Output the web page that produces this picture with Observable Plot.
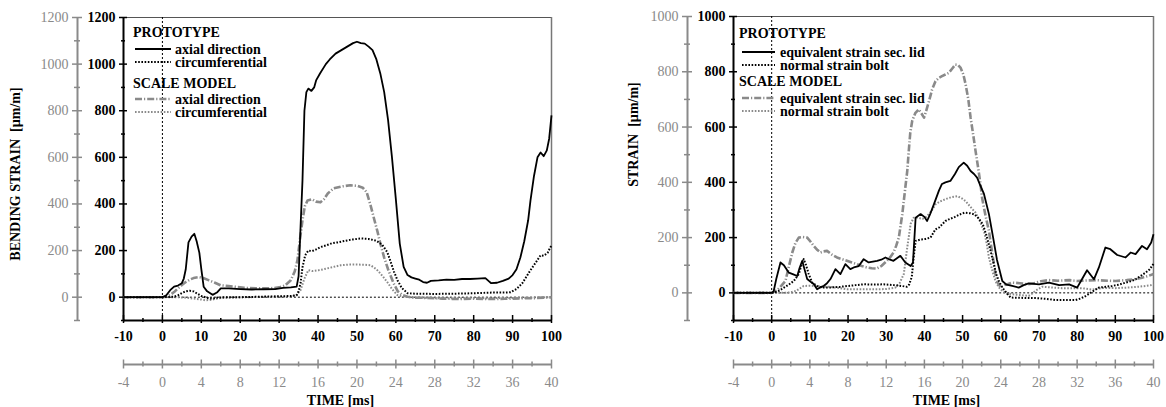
<!DOCTYPE html>
<html><head><meta charset="utf-8">
<script src="https://cdn.jsdelivr.net/npm/d3@7"></script>
<script src="https://cdn.jsdelivr.net/npm/@observablehq/plot@0.6"></script>
<style>
body{margin:0;background:#fff;}
#wrap{display:flex;width:1166px;height:407px;overflow:hidden;}
</style></head><body><div id="wrap"></div>
<script>
// ---------- tick values ----------
const TIME_RATIO = 2.5; // prototype ms per scale-model ms
const protoTimeMajor = [-10,0,10,20,30,40,50,60,70,80,90,100];
const protoTimeMinor = [-5,5,15,25,35,45,55,65,75,85,95];
const scaleTimeMajor = [-4,0,4,8,12,16,20,24,28,32,36,40];
const scaleTimeMinor = [-2,2,6,10,14,18,22,26,30,34,38];
const bendMajor = [0,200,400,600,800,1000,1200];
const bendMinor = [-100,100,300,500,700,900,1100];
const strainMajor = [0,200,400,600,800,1000];
const strainMinor = [-100,100,300,500,700,900];

// ---------- left panel: bending strain [µm/m] ----------
// prototype, time in prototype ms
const protoAxial = [[-10,0],[0,0],[1,8],[2,30],[3,45],[4,50],[5,60],[5.5,80],[6,120],[6.7,235],[7.5,260],[8.2,272],[8.8,240],[9.5,190],[10,120],[10.6,45],[11.5,25],[12.9,10],[14,20],[15,38],[17,38],[20,35],[23,33],[26,34],[29,35],[31,40],[33,42],[34.5,45],[35,90],[35.5,300],[36,500],[36.5,800],[37,880],[37.5,895],[38.3,885],[39,900],[39.5,930],[40.5,960],[42,1000],[43,1020],[44.5,1045],[46,1060],[47.5,1075],[49,1090],[50,1096],[51,1090],[52,1088],[53,1075],[54,1060],[55,1020],[56,960],[57,880],[58,760],[59,600],[60,420],[61,230],[62,130],[63,95],[64,85],[65,80],[66,75],[67,65],[68,62],[69,70],[71,72],[73,75],[75,74],[77,78],[79,78],[81,80],[83,82],[83.8,70],[84.5,60],[86,62],[87.5,70],[89,80],[90,95],[91,120],[92,170],[93,240],[94,330],[94.6,415],[95.5,520],[96.4,600],[97.2,621],[98,605],[98.8,630],[99.4,680],[100,780]];
const protoCirc = [[-10,0],[0,0],[3,2],[4,8],[5,18],[6,25],[7,28],[8,25],[9,15],[10,5],[11,0],[12,-5],[13,-6],[14,-2],[16,0],[20,0],[25,2],[30,4],[33,5],[34.5,8],[35,25],[35.5,60],[36,128],[36.7,180],[37.5,200],[38.5,198],[39.5,205],[40.6,215],[42,222],[43.5,231],[45,235],[47,242],[49,248],[51,252],[53,250],[55,242],[56.5,225],[57.8,193],[58.7,150],[59.5,110],[60.4,73],[61.5,40],[63,17],[65,15],[70,14],[75,15],[80,17],[85,20],[88,20],[89.5,21],[91,35],[92.5,60],[94.6,116],[96,150],[97.2,180],[98,178],[99,190],[99.7,214],[100,220]];
// scale model, time in scale-model ms
const scaleAxial = [[-4,0],[0,0],[0.4,3],[0.8,10],[1.2,22],[1.6,38],[2,52],[2.4,65],[2.8,75],[3.2,82],[3.72,86],[4.2,82],[4.8,72],[5.4,62],[6,51],[6.8,48],[7.6,44],[8.4,40],[9.6,38],[11.12,38],[12,42],[12.6,50],[13.2,73],[13.6,110],[13.88,158],[14.12,240],[14.4,330],[14.64,390],[14.92,415],[15.4,420],[15.8,410],[16.24,407],[16.6,420],[17,445],[17.6,467],[18.4,475],[19.32,480],[20,478],[20.6,470],[21,450],[21.4,394],[21.8,330],[22.12,280],[22.4,231],[22.8,170],[23.2,120],[23.76,60],[24.2,25],[24.68,9],[25.2,2],[26,-2],[27.2,-3],[28.8,-6],[30.4,-8],[32,-6],[33.6,-8],[35.2,-7],[36.8,-5],[38.4,-4],[40,0]];
const scaleCirc = [[-4,0],[0,0],[1.6,0],[2.4,-2],[3.2,-6],[4,-10],[4.4,-13],[4.8,-12],[5.4,-8],[6,-4],[7.2,-1],[8.8,0],[10.4,1],[12,2],[13.2,3],[13.8,10],[14.2,30],[14.6,80],[15,116],[15.4,112],[16,115],[16.8,122],[17.6,130],[18.32,137],[19.2,140],[20,140],[20.8,139],[21.4,137],[22,120],[22.4,102],[22.72,86],[23.2,60],[23.6,35],[24.16,9],[24.8,2],[26,-2],[28,-4],[30,-4],[32,-5],[34,-4],[36,-3],[38,-2],[40,0]];

// ---------- right panel: strain [µm/m] ----------
const protoLid = [[-10,0],[0,0],[0.5,5],[1.2,50],[2.3,110],[3.2,100],[4.5,73],[5.5,68],[6.7,61],[7.3,90],[8,116],[8.6,85],[9.3,50],[10.2,40],[11,32],[11.9,13],[12.8,20],[13.6,25],[14.5,35],[15.4,50],[16.7,86],[18,68],[19.3,104],[20.6,86],[21.5,92],[22.8,97],[24.1,122],[25.4,110],[26.5,113],[27.6,116],[28.7,120],[29.8,128],[31,120],[31.9,116],[32.8,125],[33.7,134],[35,110],[36.4,97],[37,110],[37.7,272],[39,285],[40,275],[40.7,260],[41.5,285],[42.5,321],[43.8,370],[44.6,394],[45.5,400],[46.8,405],[48,430],[49,455],[50.3,471],[51.2,460],[52.1,441],[53,430],[53.8,417],[54.6,390],[55.6,358],[56.9,285],[58,200],[59,120],[60.4,43],[61.5,30],[63,25],[64.7,19],[66,28],[67.3,34],[70,31],[72.6,37],[75.3,28],[77.9,31],[80,19],[81.3,50],[82.6,82],[84.4,49],[85.7,92],[87.4,164],[88.7,158],[90.5,137],[92.7,128],[94,146],[95.3,140],[97,170],[98.3,158],[99.4,182],[100,212]];
const protoBolt = [[-10,0],[0,0],[1,3],[2,8],[3.2,19],[4.5,30],[5.8,43],[7.1,68],[7.8,100],[8.4,122],[9,100],[9.7,68],[10.6,37],[11.9,25],[13,20],[14.5,19],[16,20],[18,22],[20,25],[22,28],[24.1,31],[27,30],[29.3,31],[32,28],[34,25],[35.4,22],[36,30],[36.7,58],[37.2,130],[37.7,188],[39,193],[40.3,195],[41.6,200],[42.9,230],[43.8,236],[45.5,260],[46.4,266],[48,275],[49.5,285],[50.5,290],[52,288],[53.1,284],[54.2,270],[55.3,248],[56.2,210],[57.1,164],[58,115],[58.8,68],[59.6,40],[60.4,19],[61.5,0],[62.6,-17],[65,-18],[69.2,-19],[72,-22],[74.4,-26],[77,-26],[79.6,-26],[81,-20],[82.3,-11],[84,5],[85.7,19],[87.5,22],[89.2,25],[91,30],[92.7,37],[94,42],[95.3,49],[96.5,60],[97.9,73],[99,85],[100,105]];
const scaleLid = [[-4,0],[0,0],[0.12,2],[0.6,10],[1,25],[1.44,43],[1.8,95],[2.16,146],[2.48,180],[2.84,200],[3.28,202],[3.72,200],[4.08,185],[4.4,170],[4.8,155],[5.12,146],[5.44,150],[5.8,152],[6.32,138],[6.84,128],[7.36,122],[7.88,116],[8.4,110],[8.92,104],[9.44,97],[9.96,92],[10.48,89],[11,88],[11.52,98],[12.08,116],[12.44,130],[12.76,146],[13.04,170],[13.32,200],[13.68,284],[14.04,393],[14.2,440],[14.36,513],[14.52,580],[14.72,622],[15.04,650],[15.4,664],[15.68,650],[15.96,634],[16.2,660],[16.48,694],[16.8,735],[17.16,766],[17.52,778],[17.84,784],[18.2,790],[18.56,796],[18.92,812],[19.24,826],[19.52,825],[19.8,814],[20.08,790],[20.32,754],[20.6,700],[20.84,634],[21.12,570],[21.36,513],[21.64,450],[21.88,393],[22.04,344],[22.4,280],[22.76,224],[23.12,140],[23.44,68],[23.72,35],[24,19],[24.4,28],[25.2,37],[26,35],[26.8,31],[27.6,36],[28.2,42],[29.04,46],[30,44],[31.2,46],[32,43],[33.2,45],[34,46],[35.2,44],[36,43],[37.2,46],[38,49],[38.8,55],[39.44,61],[40,68]];
const scaleBolt = [[-4,0],[0,0],[1.2,0],[2,2],[2.6,8],[3.36,25],[4,26],[4.4,25],[5.2,23],[6,22],[7,18],[7.88,13],[8.8,13],[10,13],[11.2,13],[12,14],[12.96,19],[13.4,35],[13.84,68],[14.2,164],[14.56,250],[14.88,272],[15.24,272],[15.8,268],[16.2,275],[16.72,295],[17.16,320],[17.6,330],[18.2,339],[18.8,346],[19.44,350],[19.92,342],[20.32,332],[20.8,312],[21.36,290],[21.8,260],[22.24,224],[22.52,180],[22.76,128],[23.12,80],[23.44,43],[23.8,20],[24.16,7],[24.6,-2],[25.2,-5],[26,-8],[26.92,-11],[27.28,-3],[27.6,7],[28.32,22],[29.2,20],[30.4,17],[31.4,17],[32.48,17],[33.52,12],[34.76,18],[36,17],[37.2,19],[38.4,22],[39.2,25],[40,29]];

// ---------- styles ----------
const FONT = '"Liberation Serif","Times New Roman",serif';
const GREY = "#8a8a8a";
const STY = {
  protoSolid: {stroke: "black", strokeWidth: 1.8, dash: null},
  protoDot: {stroke: "black", strokeWidth: 2, dash: "1.6,1.6"},
  scaleDashDot: {stroke: GREY, strokeWidth: 2.6, dash: "7,2,1.2,2"},
  scaleDot: {stroke: GREY, strokeWidth: 2, dash: "1.6,1.6"}
};

function makePanel(cfg) {
  const m = [];
  // frame (top, right)
  m.push(Plot.ruleY([cfg.yMax], {stroke: "#555", strokeWidth: 1}));
  m.push(Plot.ruleX([100], {stroke: "#777", strokeWidth: 1.5}));
  // reference dotted lines
  m.push(Plot.ruleX([0], {stroke: "black", strokeWidth: 1, strokeDasharray: "2,2"}));
  m.push(Plot.ruleY([0], {x1: 0, x2: 100, stroke: "black", strokeWidth: 1, strokeDasharray: "2,2"}));
  // grey y axis (scale model)
  m.push(Plot.ruleX([-10], {dx: -46, stroke: GREY, strokeWidth: 2}));
  m.push(Plot.axisY(cfg.yMajor, {anchor: "left", tickSize: 10, dx: -41, stroke: GREY, strokeWidth: 1.5, fill: "none", label: null}));
  m.push(Plot.axisY(cfg.yMinor, {anchor: "left", tickSize: 6, dx: -43, stroke: GREY, strokeWidth: 1.5, fill: "none", label: null}));
  m.push(Plot.axisY(cfg.yMajor, {anchor: "left", tickSize: 0, tickPadding: 55, fill: GREY, fontSize: 14, tickFormat: d => String(d), label: null}));
  // black y axis (prototype)
  m.push(Plot.ruleX([-10], {stroke: "black", strokeWidth: 2}));
  m.push(Plot.axisY(cfg.yMajor, {anchor: "left", tickSize: 8, dx: 4, stroke: "black", strokeWidth: 1.5, fill: "none", label: null}));
  m.push(Plot.axisY(cfg.yMinor, {anchor: "left", tickSize: 4, dx: 2, stroke: "black", strokeWidth: 1.5, fill: "none", label: null}));
  m.push(Plot.axisY(cfg.yMajor, {anchor: "left", tickSize: 0, tickPadding: 8, fill: "black", fontWeight: "bold", fontSize: 14, tickFormat: d => String(d), label: null}));
  // black x axis (prototype time)
  m.push(Plot.ruleY([-100], {stroke: "black", strokeWidth: 2.2}));
  m.push(Plot.axisX(protoTimeMajor, {anchor: "bottom", tickSize: 8, dy: -5, stroke: "black", strokeWidth: 1.5, fill: "none", label: null}));
  m.push(Plot.axisX(protoTimeMinor, {anchor: "bottom", tickSize: 4, dy: -2, stroke: "black", strokeWidth: 1.5, fill: "none", label: null}));
  m.push(Plot.axisX(protoTimeMajor, {anchor: "bottom", tickSize: 0, tickPadding: 11, fill: "black", fontWeight: "bold", fontSize: 14, tickFormat: d => String(d), label: null}));
  // grey x axis (scale-model time)
  m.push(Plot.ruleY([-100], {dy: 44, stroke: GREY, strokeWidth: 2}));
  m.push(Plot.axisX(scaleTimeMajor.map(d => d * TIME_RATIO), {anchor: "bottom", tickSize: 9, dy: 39.5, stroke: GREY, strokeWidth: 1.5, fill: "none", label: null}));
  m.push(Plot.axisX(scaleTimeMinor.map(d => d * TIME_RATIO), {anchor: "bottom", tickSize: 5, dy: 41.5, stroke: GREY, strokeWidth: 1.5, fill: "none", label: null}));
  m.push(Plot.axisX(scaleTimeMajor.map(d => d * TIME_RATIO), {anchor: "bottom", tickSize: 0, tickPadding: 57, fill: GREY, fontSize: 14, tickFormat: d => String(d / TIME_RATIO), label: null}));
  // titles
  m.push(Plot.text([cfg.yTitle], {frameAnchor: "left", rotate: -90, dx: cfg.yTitleDx, dy: cfg.yTitleDy, textAnchor: "middle", fontWeight: "bold", fontSize: 14, fill: "black"}));
  m.push(Plot.text(["TIME [ms]"], {frameAnchor: "bottom", dx: 3, dy: 80, lineAnchor: "middle", textAnchor: "middle", fontWeight: "bold", fontSize: 14, fill: "black"}));
  // data
  for (const s of cfg.series) {
    const st = STY[s.style];
    m.push(Plot.line(s.data, {x: d => d[0] * s.ratio, y: d => d[1], stroke: st.stroke, strokeWidth: st.strokeWidth, strokeDasharray: st.dash, strokeLinecap: "butt", strokeLinejoin: "round"}));
  }
  // legend
  const lg = cfg.legend;
  m.push((index, scales, values, dims) => {
    const g = d3.create("svg:g").attr("font-family", FONT).attr("font-size", 14).attr("font-weight", "bold")
      .attr("fill", "black").attr("text-anchor", "start");
    for (const h of lg.heads) g.append("text").attr("x", lg.hx).attr("y", h.y).text(h.text);
    for (const r of lg.rows) {
      const st = STY[r.style];
      g.append("line").attr("x1", lg.sx1).attr("x2", lg.sx2).attr("y1", r.y).attr("y2", r.y)
        .attr("stroke", st.stroke).attr("stroke-width", st.strokeWidth).attr("stroke-dasharray", st.dash)
        .attr("stroke-linecap", "butt");
      g.append("text").attr("x", lg.tx).attr("y", r.y + 4.5).text(r.text);
    }
    return g.node();
  });
  return Plot.plot({
    width: 583, height: 407,
    marginLeft: cfg.ml, marginRight: cfg.mr, marginTop: cfg.mt, marginBottom: 87,
    x: {type: "linear", domain: [-10, 100]},
    y: {type: "linear", domain: [-100, cfg.yMax]},
    style: {fontFamily: FONT, fontSize: "14px", background: "white", overflow: "visible"},
    marks: m
  });
}

const left = makePanel({
  ml: 123, mr: 32, mt: 17, yMax: 1200, yMajor: bendMajor, yMinor: bendMinor,
  yTitle: "BENDING STRAIN  [µm/m]", yTitleDx: -108, yTitleDy: 5,
  series: [
    {data: scaleAxial, ratio: TIME_RATIO, style: "scaleDashDot"},
    {data: scaleCirc, ratio: TIME_RATIO, style: "scaleDot"},
    {data: protoCirc, ratio: 1, style: "protoDot"},
    {data: protoAxial, ratio: 1, style: "protoSolid"}
  ],
  legend: {hx: 133, sx1: 135, sx2: 171, tx: 175,
    heads: [{text: "PROTOTYPE", y: 37}, {text: "SCALE MODEL", y: 88}],
    rows: [{text: "axial direction", y: 49, style: "protoSolid"}, {text: "circumferential", y: 62, style: "protoDot"},
           {text: "axial direction", y: 99, style: "scaleDashDot"}, {text: "circumferential", y: 112, style: "scaleDot"}]}
});
const right = makePanel({
  ml: 150, mr: 13, mt: 16, yMax: 1000, yMajor: strainMajor, yMinor: strainMinor,
  yTitle: "STRAIN  [µm/m]", yTitleDx: -100, yTitleDy: -34,
  series: [
    {data: scaleLid, ratio: TIME_RATIO, style: "scaleDashDot"},
    {data: scaleBolt, ratio: TIME_RATIO, style: "scaleDot"},
    {data: protoBolt, ratio: 1, style: "protoDot"},
    {data: protoLid, ratio: 1, style: "protoSolid"}
  ],
  legend: {hx: 156, sx1: 159, sx2: 192, tx: 197,
    heads: [{text: "PROTOTYPE", y: 38}, {text: "SCALE MODEL", y: 86}],
    rows: [{text: "equivalent strain sec. lid", y: 52, style: "protoSolid"}, {text: "normal strain bolt", y: 65, style: "protoDot"},
           {text: "equivalent strain sec. lid", y: 98, style: "scaleDashDot"}, {text: "normal strain bolt", y: 111, style: "scaleDot"}]}
});
document.getElementById("wrap").append(left, right);
</script></body></html>
